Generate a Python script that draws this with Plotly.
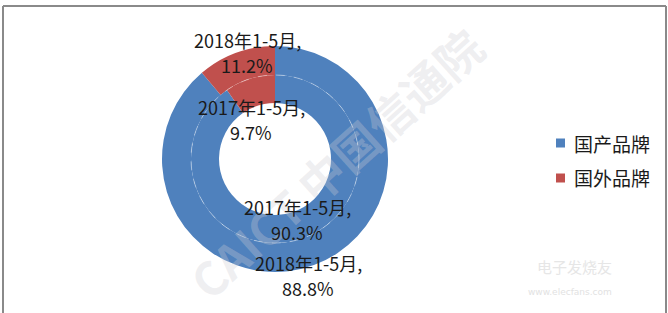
import plotly.graph_objects as go

# ---- data ----
brands = ["国产品牌", "国外品牌"]
share_2018 = [88.8, 11.2]
share_2017 = [90.3, 9.7]
period_2018 = "2018年1-5月,"
period_2017 = "2017年1-5月,"
colors = ["#4F81BD", "#C0504D"]

W, H = 668, 313
FONT = "Noto Sans CJK SC, Noto Sans, sans-serif"

def px_x(x):
    return x / W

def px_y(y):
    return 1 - y / H

cx, cy = 275, 159
R_out, R_mid, R_in = 113, 84, 56

fig = go.Figure()
fig.add_trace(go.Pie(
    labels=brands, values=share_2018, sort=False, direction="clockwise", rotation=0,
    hole=R_mid / R_out, marker=dict(colors=colors, line=dict(width=0)),
    textinfo="none", hoverinfo="label+percent", showlegend=False,
    domain=dict(x=[px_x(cx - R_out), px_x(cx + R_out)], y=[px_y(cy + R_out), px_y(cy - R_out)]),
))
fig.add_trace(go.Pie(
    labels=brands, values=share_2017, sort=False, direction="clockwise", rotation=0,
    hole=R_in / R_mid, marker=dict(colors=colors, line=dict(width=0)),
    textinfo="none", hoverinfo="label+percent", showlegend=False,
    domain=dict(x=[px_x(cx - R_mid), px_x(cx + R_mid)], y=[px_y(cy + R_mid), px_y(cy - R_mid)]),
))

shapes = []
annotations = []

# dashed separator between rings
shapes.append(dict(type="circle", xref="paper", yref="paper",
                   x0=px_x(cx - R_mid), x1=px_x(cx + R_mid),
                   y0=px_y(cy + R_mid), y1=px_y(cy - R_mid),
                   line=dict(color="rgba(255,255,255,0.4)", width=1, dash="dash"), layer="above"))

# frame
frame_col = "#8a8a8a"
shapes.append(dict(type="line", xref="paper", yref="paper", x0=px_x(3), x1=px_x(666), y0=px_y(6), y1=px_y(6),
                   line=dict(color=frame_col, width=2)))
shapes.append(dict(type="line", xref="paper", yref="paper", x0=px_x(3), x1=px_x(3), y0=px_y(6), y1=0,
                   line=dict(color=frame_col, width=2)))
shapes.append(dict(type="line", xref="paper", yref="paper", x0=px_x(666), x1=px_x(666), y0=px_y(6), y1=0,
                   line=dict(color=frame_col, width=2)))

# watermark
annotations.append(dict(text="<b>CAICT 中国信通院</b>", xref="paper", yref="paper",
                        x=px_x(335), y=px_y(163), showarrow=False, textangle=-42,
                        font=dict(family=FONT, size=46, color="rgba(205,205,212,0.33)")))
annotations.append(dict(text="电子发烧友", xref="paper", yref="paper", x=px_x(614), y=px_y(279),
                        showarrow=False, font=dict(family=FONT, size=15, color="#e6e6e6")))
annotations.append(dict(text="www.elecfans.com", xref="paper", yref="paper", x=px_x(614), y=px_y(299),
                        showarrow=False, font=dict(family="DejaVu Sans", size=9, color="#e2e2e2")))

# data labels
def pct(v):
    return f"{v:.1f}%"

label_specs = [
    (period_2018, pct(share_2018[1]), 247, 40),
    (period_2017, pct(share_2017[1]), 251, 107),
    (period_2017, pct(share_2017[0]), 297, 207),
    (period_2018, pct(share_2018[0]), 308, 263),
]
for l1, l2, x, y in label_specs:
    for i, t in enumerate([l1, l2]):
        annotations.append(dict(text=t, xref="paper", yref="paper", x=px_x(x), y=px_y(y + 25 * i),
                                showarrow=False, xanchor="center", yanchor="middle",
                                font=dict(family=FONT, size=18, color="#1a1a1a")))

# legend (manual)
for i, (name, col) in enumerate(zip(brands, colors)):
    ly = 143 + 35 * i
    shapes.append(dict(type="rect", xref="paper", yref="paper",
                       x0=px_x(556), x1=px_x(565), y0=px_y(ly + 4.5), y1=px_y(ly - 4.5),
                       fillcolor=col, line=dict(width=0)))
    annotations.append(dict(text=name, xref="paper", yref="paper", x=px_x(572), y=px_y(ly),
                            showarrow=False, xanchor="left", yanchor="middle",
                            font=dict(family=FONT, size=19, color="#1a1a1a")))

fig.update_layout(
    width=W, height=H, margin=dict(l=0, r=0, t=0, b=0),
    paper_bgcolor="white", plot_bgcolor="white",
    showlegend=False, shapes=shapes, annotations=annotations,
)
fig.write_html("out.html")
